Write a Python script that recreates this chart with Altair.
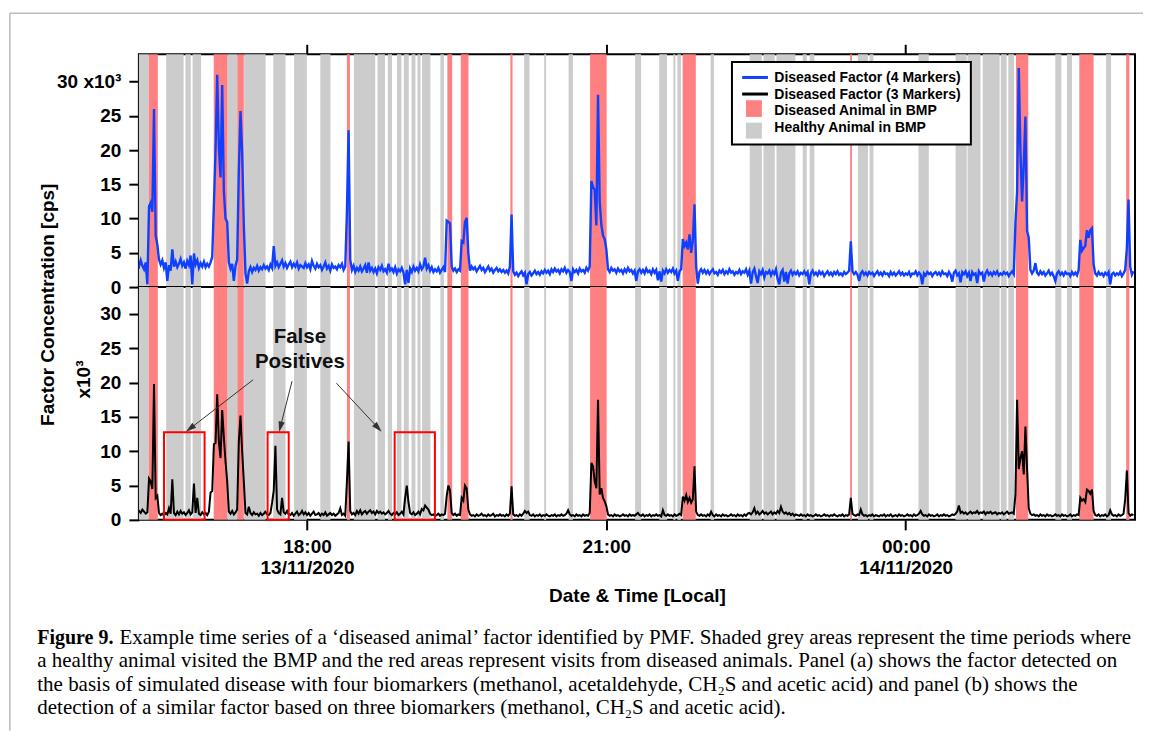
import pandas as pd
import altair as alt

# readings: one per minute, starting 16:18 on 13/11/2020 (values in 10^3 cps)
first_minute = 18  # minutes after 16:00

factor4_k = [
    3.4, 3.0, 3.9, 3.1, 2.6, 3.6, 0.4, 11.8, 12.3, 11.0, 26.0, 7.5, 6.2, 4.0, 3.3, 3.9, 2.8, 3.6, 0.9, 3.2,
    2.4, 5.5, 3.0, 3.7, 2.9, 3.4, 4.1, 3.1, 3.6, 2.7, 3.8, 3.2, 4.6, 0.4, 4.9, 3.3, 3.9, 2.8, 3.5, 3.0,
    3.7, 2.9, 3.4, 3.0, 3.6, 4.4, 12.0, 20.0, 31.0, 20.5, 16.0, 29.5, 14.0, 10.0, 9.5, 3.6, 2.7, 3.4, 0.9, 3.1,
    4.0, 17.0, 25.7, 19.6, 9.0, 2.0, 0.5, 2.3, 2.9, 2.2, 2.8, 2.5, 3.1, 2.4, 2.9, 2.6, 3.2, 2.7, 3.0, 2.5,
    3.3, 2.8, 6.0, 3.1, 3.6, 2.9, 3.4, 3.9, 3.0, 3.5, 2.8, 3.3, 3.7, 2.9, 3.4, 3.0, 3.6, 2.7, 3.2, 3.0,
    2.8, 3.5, 2.9, 3.3, 2.6, 3.8, 3.1, 2.7, 3.4, 2.9, 3.2, 2.5, 3.0, 3.6, 2.7, 3.1, 2.4, 3.3, 2.8, 3.0,
    2.6, 3.2, 2.9, 3.4, 2.5, 3.0, 11.0, 22.9, 4.0, 2.5, 3.1, 2.2, 2.8, 2.4, 3.0, 2.3, 2.7, 3.2, 2.1, 3.6,
    2.4, 2.8, 2.2, 2.7, 2.0, 2.9, 2.5, 3.1, 2.3, 2.6, 2.1, 3.4, 2.4, 2.7, 2.2, 2.9, 2.0, 2.6, 2.3, 2.8,
    2.1, 0.4, 2.5, 0.6, 2.7, 2.2, 3.0, 2.4, 2.8, 2.3, 3.3, 2.6, 3.0, 4.3, 2.7, 3.2, 2.4, 2.9, 2.2, 2.6,
    2.3, 2.8, 2.1, 2.5, 2.9, 2.2, 9.7, 9.5, 9.3, 3.0, 2.4, 2.7, 2.2, 2.6, 2.4, 6.7, 6.5, 9.5, 10.1, 5.0,
    2.4, 3.0, 2.6, 2.9, 2.3, 2.7, 3.1, 2.5, 2.8, 2.2, 2.6, 3.0, 2.4, 2.7, 2.1, 2.5, 2.8, 2.3, 2.6, 2.2,
    2.5, 2.1, 2.4, 2.0, 3.0, 10.6, 2.3, 1.8, 2.1, 1.6, 2.0, 2.3, 1.7, 2.1, 0.4, 1.9, 2.2, 1.7, 2.0, 2.4,
    1.9, 2.2, 1.8, 2.3, 2.0, 2.5, 2.1, 2.4, 1.9, 2.6, 2.2, 2.7, 2.3, 2.5, 2.0, 2.6, 2.3, 2.8, 2.1, 2.5,
    2.2, 0.9, 2.6, 2.2, 2.5, 2.0, 2.7, 2.3, 2.5, 2.1, 2.8, 2.4, 3.0, 15.5, 14.6, 14.2, 9.0, 28.1, 12.5, 9.1,
    7.5, 7.0, 5.5, 2.6, 2.2, 2.8, 2.4, 2.6, 2.1, 2.7, 2.3, 2.5, 2.0, 2.6, 2.2, 2.8, 2.3, 2.5, 2.0, 2.4,
    0.9, 2.3, 2.6, 2.1, 2.5, 2.0, 2.7, 2.2, 2.4, 1.9, 2.6, 2.1, 2.5, 1.0, 2.3, 0.8, 2.4, 2.0, 2.6, 2.1,
    2.5, 2.2, 2.7, 2.0, 2.4, 0.9, 2.3, 2.6, 7.0, 6.0, 6.5, 5.5, 7.7, 5.0, 6.8, 12.1, 3.0, 0.5, 2.2, 2.6,
    2.1, 2.5, 2.0, 2.4, 1.9, 2.3, 2.6, 2.0, 2.2, 1.8, 2.4, 2.1, 2.5, 1.9, 2.3, 2.0, 2.6, 2.1, 2.3, 1.8,
    2.2, 2.0, 2.5, 1.9, 2.3, 2.1, 2.6, 1.8, 2.4, 0.5, 2.2, 2.7, 1.6, 0.6, 2.3, 1.9, 2.5, 1.4, 2.2, 2.0,
    2.4, 1.7, 2.3, 1.9, 2.6, 1.2, 0.4, 2.1, 2.5, 0.8, 2.2, 0.5, 2.0, 2.4, 1.8, 2.2, 1.9, 2.3, 1.7, 2.1,
    1.9, 2.3, 1.8, 2.2, 0.4, 2.0, 2.4, 1.8, 2.1, 1.7, 2.3, 1.9, 2.2, 1.6, 2.0, 2.3, 1.8, 2.1, 1.7, 2.2,
    1.9, 2.3, 1.8, 2.0, 1.7, 2.2, 1.9, 2.1, 2.4, 6.7, 2.3, 1.9, 2.2, 1.8, 0.9, 2.0, 2.3, 1.8, 2.1, 1.7,
    2.2, 1.9, 2.1, 1.6, 2.0, 2.3, 1.8, 2.1, 1.7, 2.2, 1.9, 2.0, 1.6, 2.2, 1.8, 2.1, 1.7, 2.0, 2.3, 1.8,
    2.1, 1.7, 2.0, 1.8, 2.2, 1.6, 2.0, 1.9, 2.3, 1.7, 2.1, 1.8, 0.4, 2.0, 1.7, 2.2, 1.9, 2.1, 1.6, 2.0,
    2.2, 1.8, 2.1, 1.7, 2.3, 1.9, 2.0, 1.6, 2.2, 1.8, 0.8, 2.1, 2.4, 1.7, 2.0, 0.7, 2.2, 1.9, 2.3, 1.6,
    2.1, 0.9, 2.2, 1.8, 2.0, 0.6, 2.3, 1.9, 2.1, 0.8, 2.0, 2.4, 1.8, 2.1, 1.7, 2.2, 1.9, 2.3, 1.7, 2.0,
    1.8, 2.2, 1.9, 2.1, 1.6, 2.0, 2.3, 1.9, 9.4, 14.0, 32.0, 19.8, 12.5, 17.9, 24.9, 8.2, 7.2, 2.5, 2.0, 2.4,
    3.5, 2.1, 1.8, 2.3, 1.9, 2.2, 1.7, 2.0, 2.4, 1.8, 2.1, 1.6, 0.9, 2.0, 2.3, 1.8, 2.1, 1.7, 2.2, 1.9,
    2.0, 1.6, 2.2, 1.8, 2.1, 1.7, 2.5, 6.9, 5.3, 5.7, 6.0, 8.3, 7.2, 8.3, 8.6, 3.3, 2.0, 1.7, 2.2, 1.8,
    2.0, 1.6, 2.1, 1.8, 2.2, 0.4, 1.9, 2.1, 1.7, 2.0, 1.8, 2.2, 1.6, 2.0, 2.5, 5.7, 12.8, 3.0, 1.8, 2.3,
]

factor3_k = [
    1.1, 1.3, 1.0, 1.5, 1.2, 0.9, 1.1, 6.0, 5.6, 4.5, 19.8, 3.2, 3.5, 1.0, 0.7, 0.9, 0.6, 1.0, 0.8, 1.7,
    0.9, 5.9, 1.0, 0.7, 1.2, 0.8, 1.3, 0.9, 1.1, 0.7, 1.0, 1.4, 0.8, 1.1, 5.3, 1.0, 3.2, 0.9, 0.7, 1.1,
    0.8, 1.0, 0.7, 1.2, 4.0, 4.2, 11.0, 11.2, 18.3, 11.4, 9.0, 16.0, 12.0, 8.5, 5.6, 1.2, 0.9, 1.3, 0.8, 1.1,
    1.5, 11.4, 15.2, 10.0, 5.6, 1.0, 0.8, 1.9, 1.0, 0.7, 1.1, 0.8, 0.9, 0.6, 1.0, 0.7, 0.9, 1.2, 0.8, 0.7,
    1.0, 2.5, 4.3, 10.8, 1.5, 1.0, 0.8, 3.2, 1.1, 0.9, 1.3, 0.8, 0.7, 1.0, 0.6, 0.9, 1.2, 0.7, 0.9, 1.3,
    0.8, 1.1, 0.7, 1.0, 0.6, 0.9, 1.2, 0.7, 0.8, 1.0, 0.6, 0.9, 0.7, 1.1, 0.6, 0.8, 1.0, 0.7, 0.9, 0.6,
    0.8, 1.0, 1.7, 0.7, 0.9, 0.6, 5.6, 11.4, 1.3, 0.8, 1.0, 0.7, 1.3, 0.9, 1.4, 0.8, 1.1, 1.3, 0.9, 1.2,
    1.4, 1.0, 1.2, 0.8, 1.3, 1.0, 1.2, 0.9, 1.1, 0.8, 1.0, 1.3, 0.9, 0.7, 1.0, 0.8, 1.1, 0.7, 0.9, 1.2,
    0.8, 3.2, 5.0, 2.6, 1.0, 0.8, 1.1, 0.7, 0.9, 1.2, 0.8, 1.6, 1.4, 2.1, 1.8, 1.5, 0.9, 0.7, 0.8, 0.6,
    0.7, 0.9, 0.6, 0.8, 0.7, 0.9, 3.5, 5.0, 4.3, 1.0, 0.7, 0.9, 0.6, 0.8, 0.7, 3.2, 2.8, 5.0, 4.6, 1.5,
    0.8, 0.6, 0.7, 0.5, 0.8, 0.6, 0.7, 0.9, 0.6, 0.7, 0.5, 0.8, 0.6, 0.7, 0.9, 0.5, 0.7, 0.6, 0.8, 0.6,
    0.7, 0.5, 0.8, 0.6, 0.9, 4.9, 0.8, 0.6, 0.7, 0.5, 0.8, 0.6, 0.9, 1.3, 1.0, 1.2, 0.7, 0.6, 0.8, 0.5,
    0.7, 0.6, 0.8, 0.5, 0.7, 0.6, 0.8, 0.6, 0.5, 0.7, 0.6, 0.8, 0.5, 0.7, 0.6, 0.8, 0.6, 0.7, 0.9, 1.4,
    0.8, 0.6, 0.7, 0.5, 0.8, 0.6, 0.7, 0.5, 0.8, 0.6, 0.7, 0.6, 1.0, 8.3, 7.8, 5.6, 4.6, 17.5, 3.7, 4.6,
    3.2, 2.7, 2.0, 0.8, 0.6, 0.7, 0.5, 0.8, 0.6, 0.7, 0.5, 0.6, 0.8, 0.6, 0.7, 0.5, 0.8, 0.6, 0.7, 0.6,
    0.8, 1.0, 0.7, 0.6, 0.8, 0.5, 0.7, 0.6, 0.8, 0.5, 0.7, 0.6, 0.8, 0.6, 0.7, 0.5, 1.4, 0.7, 0.6, 0.8,
    0.6, 0.7, 0.5, 0.8, 0.6, 0.7, 0.9, 0.7, 3.4, 2.8, 3.6, 2.6, 3.2, 2.5, 3.0, 7.8, 1.2, 0.7, 0.6, 0.8,
    0.6, 0.7, 0.5, 0.8, 0.6, 1.2, 0.7, 0.5, 0.8, 0.6, 0.7, 0.5, 0.8, 0.6, 0.7, 0.5, 0.6, 0.8, 0.6, 0.7,
    0.5, 0.8, 0.6, 0.7, 0.5, 0.8, 0.6, 0.9, 1.0, 0.8, 1.1, 1.7, 0.9, 1.2, 0.8, 1.0, 1.3, 0.9, 1.1, 0.8,
    1.0, 1.2, 0.8, 1.1, 0.9, 1.3, 1.0, 1.9, 1.2, 0.9, 1.1, 0.8, 1.0, 0.7, 0.9, 0.6, 0.8, 0.7, 0.6, 0.8,
    0.6, 0.7, 0.5, 0.8, 0.6, 0.7, 0.5, 0.6, 0.8, 0.6, 0.7, 0.5, 0.6, 0.8, 0.6, 0.7, 0.5, 0.7, 0.6, 0.8,
    0.6, 0.5, 0.7, 0.6, 0.8, 0.5, 0.7, 0.6, 0.8, 3.2, 0.9, 0.7, 0.6, 0.8, 0.7, 1.5, 0.8, 0.6, 0.7, 0.5,
    0.7, 0.6, 0.8, 0.5, 0.7, 0.6, 0.5, 0.7, 0.6, 0.8, 0.5, 0.7, 0.6, 0.8, 0.5, 0.6, 0.7, 0.5, 0.8, 0.6,
    0.7, 0.5, 0.6, 0.8, 0.6, 0.7, 0.5, 0.8, 0.6, 0.7, 0.9, 1.3, 0.8, 0.6, 0.7, 0.5, 0.8, 0.6, 0.7, 0.5,
    0.6, 0.8, 0.5, 0.7, 0.6, 0.8, 0.6, 0.7, 0.5, 0.6, 0.8, 0.7, 0.9, 1.2, 2.1, 1.0, 1.2, 0.9, 1.1, 0.8,
    1.0, 1.2, 0.9, 1.1, 1.0, 1.3, 0.9, 1.1, 1.0, 1.2, 0.8, 1.1, 1.0, 1.2, 0.9, 1.0, 1.1, 0.8, 1.0, 0.9,
    1.1, 0.8, 1.0, 1.2, 0.9, 1.0, 1.1, 0.9, 3.7, 17.5, 7.4, 9.0, 10.0, 6.6, 13.6, 7.4, 1.7, 0.9, 0.7, 0.8,
    0.6, 0.7, 0.5, 0.8, 0.6, 0.7, 0.5, 0.8, 0.6, 0.7, 0.5, 0.6, 0.8, 0.6, 0.7, 0.5, 0.8, 0.6, 0.7, 0.5,
    0.6, 0.8, 0.5, 0.7, 0.6, 0.8, 0.7, 3.2, 2.8, 3.0, 2.6, 4.4, 4.2, 3.8, 4.4, 1.3, 0.7, 0.6, 0.8, 0.5,
    0.7, 0.6, 0.8, 0.5, 0.7, 1.4, 0.8, 0.6, 0.7, 0.5, 0.8, 0.6, 0.7, 0.9, 3.0, 7.2, 1.0, 0.6, 0.8, 0.7,
]

# visits to the BMP, minutes after 16:00
red_start = [24.9, 63.9, 78.1, 144.0, 204.4, 212.5, 242.3, 290.2, 345.9, 446.6, 546.3, 584.4, 612.6]
red_end = [30.3, 72.1, 82.0, 145.8, 207.3, 217.1, 243.6, 300.2, 353.8, 447.7, 553.7, 593.0, 614.5]

grey_start = [18.9, 35.3, 46.9, 51.2, 72.1, 82.2, 99.7, 112.2, 128.0, 148.2, 162.4, 168.6, 174.1,
              178.2, 182.8, 186.4, 189.2, 200.2, 250.6, 262.6, 277.3, 317.3, 331.8, 340.3, 342.7,
              362.7, 386.2, 394.5, 402.3, 418.1, 422.3, 451.3, 458.3, 487.7, 510.0, 517.2, 526.3,
              537.2, 541.7, 570.0, 577.0, 600.5]
grey_end = [24.9, 45.8, 50.1, 56.3, 78.1, 95.1, 107.1, 119.9, 134.1, 161.0, 166.9, 171.1, 176.8,
            181.2, 185.2, 188.2, 194.2, 202.3, 253.8, 263.8, 279.9, 320.9, 336.5, 341.5, 344.8,
            364.8, 393.5, 401.3, 413.7, 420.5, 425.1, 457.3, 460.6, 493.9, 516.7, 525.0, 536.5,
            540.7, 545.2, 573.6, 580.0, 603.5]

# false positive boxes (panel b)
fp_start = [34.0, 96.3, 172.7]
fp_end = [58.4, 109.0, 196.9]
fp_top = [12.75, 12.75, 12.75]

arrow_tail_min = [87.6, 111.0, 137.7]
arrow_tail_k = [20.4, 20.2, 19.9]
arrow_head_min = [49.7, 104.0, 162.7]
arrow_head_k = [13.3, 13.55, 13.4]
arrow_angle = [232, 194, 137]

note_lines = ["False", "Positives"]
note_min = [115.7, 115.7]
note_k = [26.7, 23.0]

legend_labels = ["Diseased Factor (4 Markers)", "Diseased Factor (3 Markers)",
                 "Diseased Animal in BMP", "Healthy Animal in BMP"]

caption_head = "Figure 9."
caption_lines = [
    "Example time series of a \u2018diseased animal\u2019 factor identified by PMF. Shaded grey areas represent the time periods where",
    "a healthy animal visited the BMP and the red areas represent visits from diseased animals. Panel (a) shows the factor detected on",
    "the basis of simulated disease with four biomarkers (methanol, acetaldehyde, CH\u2082S and acetic acid) and panel (b) shows the",
    "detection of a similar factor based on three biomarkers (methanol, CH\u2082S and acetic acid).",
]

BLUE = "#1040ff"
RED_BAND = "#ff8080"
GREY_BAND = "#cccccc"
SANS = "Liberation Sans"
SERIF = "Liberation Serif"
W, H = 997, 233

base = pd.Timestamp("2020-11-13 16:00")


def at(minutes):
    return base + pd.to_timedelta(list(minutes), unit="m")


lines = pd.DataFrame({
    "time": at(range(first_minute, first_minute + len(factor4_k))),
    "factor4": factor4_k,
    "factor3": factor3_k,
})
reds = pd.DataFrame({"start": at(red_start), "end": at(red_end)})
greys = pd.DataFrame({"start": at(grey_start), "end": at(grey_end)})
boxes = pd.DataFrame({"start": at(fp_start), "end": at(fp_end), "top": fp_top, "low": [0] * len(fp_top)})
arrows = pd.DataFrame({"t0": at(arrow_tail_min), "v0": arrow_tail_k,
                       "t1": at(arrow_head_min), "v1": arrow_head_k, "angle": arrow_angle})
notes = pd.DataFrame({"time": at(note_min), "v": note_k, "text": note_lines})
one = pd.DataFrame({"k": [0]})

x_scale = alt.Scale(domain=[
    alt.DateTime(year=2020, month=11, date=13, hours=16, minutes=18, seconds=54),
    alt.DateTime(year=2020, month=11, date=14, hours=2, minutes=17, seconds=54),
])
ticks = [
    alt.DateTime(year=2020, month=11, date=13, hours=18),
    alt.DateTime(year=2020, month=11, date=13, hours=21),
    alt.DateTime(year=2020, month=11, date=14, hours=0),
]
top_x_axis = alt.Axis(orient="top", values=ticks, labels=False, title=None)
bottom_x_axis = alt.Axis(
    values=ticks, title="Date & Time [Local]", labelPadding=8, labelLineHeight=21,
    titlePadding=9,
    labelExpr="hours(datum.value) == 21 ? '21:00' : [timeFormat(datum.value, '%H:%M'), timeFormat(datum.value, '%d/%m/%Y')]",
)
y_values = [0, 5, 10, 15, 20, 25, 30]
top_y_scale = alt.Scale(domain=[0, 34], nice=False)
bottom_y_scale = alt.Scale(domain=[0, 33.9], nice=False)
top_y_axis = alt.Axis(values=y_values, title=None, labelOverlap=False,
                      labelExpr="datum.value == 30 ? '30 x10\u00b3' : datum.label")
bottom_y_axis = alt.Axis(values=y_values, title=None, labelOverlap=False)


def tx(field, axis):
    return alt.X(field, type="temporal", scale=x_scale, axis=axis)


def by(field):
    return alt.Y(field, type="quantitative", scale=bottom_y_scale, axis=bottom_y_axis)


def panel_bands(axis):
    grey = alt.Chart(greys).mark_rect(color=GREY_BAND).encode(x=tx("start", axis), x2="end:T")
    red = alt.Chart(reds).mark_rect(color=RED_BAND).encode(x=tx("start", axis), x2="end:T")
    return grey, red


# ---- panel (a)
grey_a, red_a = panel_bands(top_x_axis)
line_a = alt.Chart(lines).mark_line(color=BLUE, strokeWidth=2.4, clip=True).encode(
    x=tx("time", top_x_axis),
    y=alt.Y("factor4:Q", scale=top_y_scale, axis=top_y_axis),
)

legend_box = alt.Chart(one).mark_rect(fill="white", stroke="black", strokeWidth=2).encode(
    x=alt.value(593.6), x2=alt.value(832.7), y=alt.value(7.7), y2=alt.value(90.4))
legend_blue = alt.Chart(one).mark_rule(color=BLUE, strokeWidth=3).encode(
    x=alt.value(603.8), x2=alt.value(629.6), y=alt.value(23.2))
legend_black = alt.Chart(one).mark_rule(color="black", strokeWidth=3).encode(
    x=alt.value(603.8), x2=alt.value(629.6), y=alt.value(39.8))
legend_red = alt.Chart(one).mark_rect(color=RED_BAND).encode(
    x=alt.value(607.6), x2=alt.value(623.5), y=alt.value(46), y2=alt.value(62.7))
legend_grey = alt.Chart(one).mark_rect(color=GREY_BAND).encode(
    x=alt.value(607.6), x2=alt.value(623.5), y=alt.value(68.4), y2=alt.value(84.4))
legend_text = [
    alt.Chart(one).mark_text(align="left", baseline="middle", font=SANS, fontWeight="bold",
                             fontSize=14, text=label).encode(x=alt.value(636), y=alt.value(23.7 + 16.7 * i))
    for i, label in enumerate(legend_labels)
]

y_title = alt.Chart(one).mark_text(angle=270, font=SANS, fontWeight="bold", fontSize=19,
                                   text="Factor Concentration [cps]").encode(
    x=alt.value(-91), y=alt.value(250.7))

frame_top = alt.Chart(one).mark_rule(color="#bbbbbb", strokeWidth=1.5).encode(
    x=alt.value(-129.2), x2=alt.value(1005), y=alt.value(-41))
frame_left = alt.Chart(one).mark_rule(color="#bbbbbb", strokeWidth=1.5).encode(
    x=alt.value(-129.2), y=alt.value(-41), y2=alt.value(677))

top = alt.layer(
    grey_a, red_a, line_a, legend_box, legend_blue, legend_black, legend_red, legend_grey,
    *legend_text, y_title, frame_top, frame_left,
).properties(width=W, height=H)

# ---- panel (b)
grey_b, red_b = panel_bands(bottom_x_axis)
line_b = alt.Chart(lines).mark_line(color="black", strokeWidth=2, clip=True).encode(
    x=tx("time", bottom_x_axis), y=by("factor3"))
fp_boxes = alt.Chart(boxes).mark_rect(fillOpacity=0, stroke="#ff0000", strokeWidth=2).encode(
    x=tx("start", bottom_x_axis), x2="end:T", y=by("low"), y2="top:Q")
arrow_lines = alt.Chart(arrows).mark_rule(color="#333333", strokeWidth=1).encode(
    x=tx("t0", bottom_x_axis), x2="t1:T", y=by("v0"), y2="v1:Q")
arrow_heads = alt.Chart(arrows).mark_point(
    shape="M0,-1L0.6,1L-0.6,1Z", filled=True, size=110, color="#333333", opacity=1).encode(
    x=tx("t1", bottom_x_axis), y=by("v1"),
    angle=alt.Angle("angle:Q", scale=None))
note = alt.Chart(notes).mark_text(font=SANS, fontWeight="bold", fontSize=20.5, color="#111111").encode(
    x=tx("time", bottom_x_axis), y=by("v"), text="text:N")
x10 = alt.Chart(one).mark_text(angle=270, font=SANS, fontWeight="bold", fontSize=19,
                               text="x10\u00b3").encode(x=alt.value(-54.5), y=alt.value(92.5))

caption = [
    alt.Chart(one).mark_text(align="left", baseline="middle", font=SERIF,
                             fontWeight="bold", fontSize=20, text=caption_head).encode(
        x=alt.value(-101.7), y=alt.value(351))
]
for i, text in enumerate(caption_lines):
    caption.append(
        alt.Chart(one).mark_text(align="left", baseline="middle", font=SERIF,
                                 fontSize=21, text=text).encode(
            x=alt.value(-19.4 if i == 0 else -101.7), y=alt.value(351 + 23.4 * i))
    )

bottom = alt.layer(
    grey_b, red_b, line_b, fp_boxes, arrow_lines, arrow_heads, note, x10, *caption,
).properties(width=W, height=H)

chart = alt.vconcat(top, bottom, spacing=0, bounds="flush").properties(
    padding={"left": 0, "top": 3, "right": 0, "bottom": 0}
).configure_view(
    stroke="black", strokeWidth=2
).configure_axis(
    labelFont=SANS, labelFontWeight="bold", labelFontSize=19, labelColor="black",
    titleFont=SANS, titleFontWeight="bold", titleFontSize=19, titleColor="black",
    tickSize=10, tickWidth=2, tickColor="black", labelPadding=8,
    domain=False, grid=False,
)

chart.save("out.html", embed_options={"renderer": "svg", "actions": False})
